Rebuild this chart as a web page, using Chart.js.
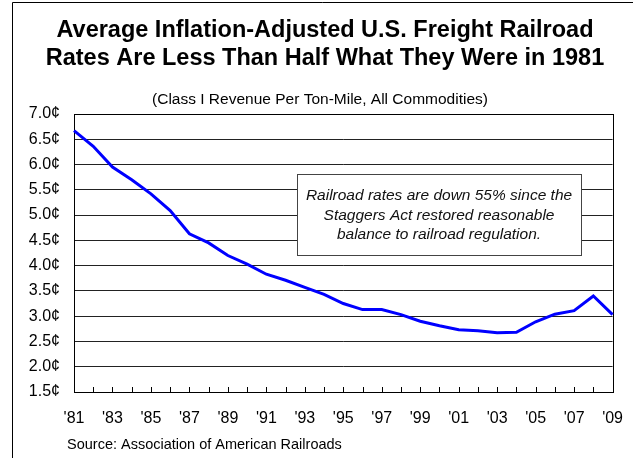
<!DOCTYPE html>
<html>
<head>
<meta charset="utf-8">
<script src="https://cdn.jsdelivr.net/npm/chart.js@4/dist/chart.umd.min.js"></script>
<style>
html,body{margin:0;padding:0;background:#fff;}
#wrap{width:640px;height:458px;position:relative;}
</style>
</head>
<body>
<div id="wrap"><canvas id="c" width="640" height="458"></canvas></div>
<script>
const years = ["'81","'82","'83","'84","'85","'86","'87","'88","'89","'90","'91","'92","'93","'94","'95","'96","'97","'98","'99","'00","'01","'02","'03","'04","'05","'06","'07","'08","'09"];
const rates = [6.67,6.36,5.95,5.70,5.42,5.09,4.63,4.45,4.20,4.03,3.83,3.71,3.57,3.43,3.25,3.13,3.13,3.03,2.90,2.81,2.73,2.71,2.67,2.68,2.89,3.04,3.11,3.40,3.03];
const titleLines = ["Average Inflation-Adjusted U.S. Freight Railroad","Rates Are Less Than Half What They Were in 1981"];
const subtitleText = "(Class I Revenue Per Ton-Mile, All Commodities)";
const noteLines = ["Railroad rates are down 55% since the","Staggers Act restored reasonable","balance to railroad regulation."];
const sourceText = "Source: Association of American Railroads";
const yMin = 1.5, yMax = 7.0, yStep = 0.5;

const FONT = "'Liberation Sans', Arial, Helvetica, sans-serif";
Chart.defaults.font.family = FONT;
Chart.defaults.color = '#000';

const decor = {
  id: 'decor',
  beforeDraw(chart) {
    const ctx = chart.ctx;
    ctx.save();
    ctx.fillStyle = '#fff';
    ctx.fillRect(0, 0, chart.width, chart.height);
    // outer frame (left and top edges visible)
    ctx.strokeStyle = '#000';
    ctx.lineWidth = 1;
    ctx.beginPath();
    ctx.moveTo(12.5, 458);
    ctx.lineTo(12.5, 2.5);
    ctx.lineTo(633, 2.5);
    ctx.stroke();
    // title
    ctx.fillStyle = '#000';
    ctx.textAlign = 'center';
    ctx.textBaseline = 'alphabetic';
    ctx.font = 'bold 23.5px ' + FONT;
    titleLines.forEach((t, i) => ctx.fillText(t, 325, 37 + i * 28));
    // subtitle
    ctx.font = '15.5px ' + FONT;
    ctx.fillText(subtitleText, 320, 104);
    ctx.restore();
  },
  beforeDatasetsDraw(chart) {
    const ctx = chart.ctx;
    const a = chart.chartArea;
    const xs = chart.scales.x;
    ctx.save();
    // plot border
    ctx.strokeStyle = '#000';
    ctx.lineWidth = 1;
    ctx.strokeRect(Math.round(a.left) + 0.5, Math.round(a.top) + 0.5, Math.round(a.right - a.left), Math.round(a.bottom - a.top));
    // inward tick marks on x axis
    ctx.beginPath();
    for (let i = 0; i < years.length; i++) {
      const x = Math.round(xs.getPixelForTick(i)) + 0.5;
      ctx.moveTo(x, Math.round(a.bottom));
      ctx.lineTo(x, Math.round(a.bottom) - 5);
    }
    ctx.stroke();
    // annotation box
    const bx = 297, by = 174, bw = 284, bh = 81;
    ctx.fillStyle = '#fff';
    ctx.fillRect(bx, by, bw, bh);
    ctx.strokeStyle = '#444';
    ctx.strokeRect(bx + 0.5, by + 0.5, bw, bh);
    ctx.fillStyle = '#111';
    ctx.font = 'italic 15.5px ' + FONT;
    ctx.textAlign = 'center';
    ctx.textBaseline = 'middle';
    noteLines.forEach((t, i) => ctx.fillText(t, bx + bw / 2, 196 + i * 19.5));
    // source
    ctx.textAlign = 'left';
    ctx.textBaseline = 'alphabetic';
    ctx.font = '14.5px ' + FONT;
    ctx.fillStyle = '#000';
    ctx.fillText(sourceText, 67, 449);
    ctx.restore();
  }
};

new Chart(document.getElementById('c'), {
  type: 'line',
  data: {
    labels: years,
    datasets: [{
      data: rates,
      borderColor: '#0000ff',
      borderWidth: 3,
      pointRadius: 0,
      tension: 0,
      fill: false
    }]
  },
  options: {
    responsive: false,
    animation: false,
    devicePixelRatio: 1,
    layout: { padding: { left: 0, right: 18, top: 114, bottom: 0 } },
    plugins: {
      legend: { display: false },
      tooltip: { enabled: false },
      title: { display: false },
      subtitle: { display: false }
    },
    scales: {
      x: {
        type: 'category',
        offset: false,
        grid: { display: false, drawTicks: false },
        border: { display: true, color: '#000' },
        ticks: {
          autoSkip: false,
          maxRotation: 0,
          padding: 17,
          font: { size: 16 },
          color: '#000',
          callback: (v, i) => (i % 2 === 0 ? years[i] : '')
        },
        afterFit(s) { s.height = 66; }
      },
      y: {
        min: yMin,
        max: yMax,
        grid: { color: '#222', lineWidth: 1, drawTicks: false },
        border: { display: true, color: '#000' },
        ticks: {
          stepSize: yStep,
          padding: 14,
          font: { size: 16 },
          color: '#000',
          callback: v => v.toFixed(1) + '\u00a2'
        },
        afterFit(s) { s.width = 74; }
      }
    }
  },
  plugins: [decor]
});
</script>
</body>
</html>
